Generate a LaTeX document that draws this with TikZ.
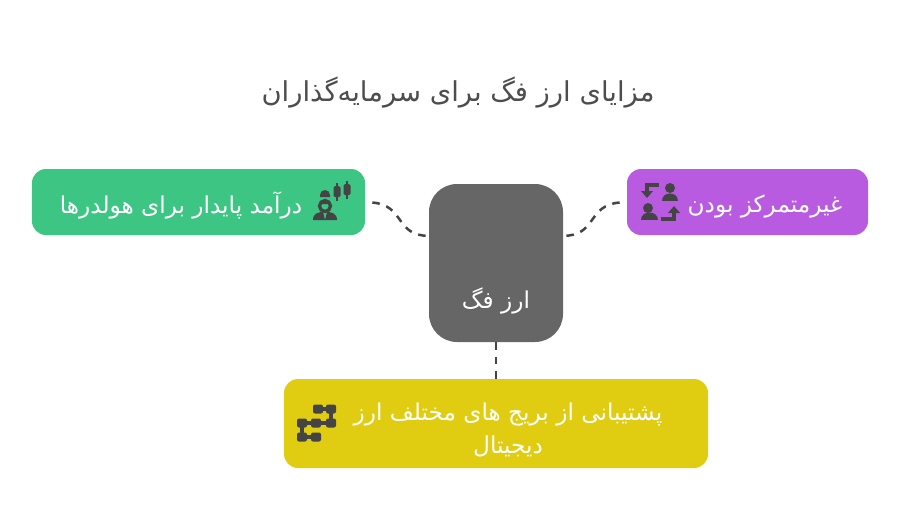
\documentclass[tikz,border=0pt]{standalone}
\usepackage{fontspec}
\newfontfamily\arabicfont[Script=Arabic]{DejaVu Sans}
\TeXXeTstate=1
\usepackage{xcolor}
\usetikzlibrary{calc}
\definecolor{FogGray}{RGB}{102,102,102}
\definecolor{IncomeGreen}{RGB}{60,197,131}
\definecolor{CentralPurple}{RGB}{184,91,224}
\definecolor{ExchangeYellow}{RGB}{224,204,17}
\definecolor{IconDark}{RGB}{68,68,68}
\begin{document}
\begin{tikzpicture}[
        x=0.2mm, y=-0.2mm,
        % --- STYLE CHUNG ---
        common/.style={
            rectangle,
            rounded corners=2.8mm,
            inner sep=0pt
        },
        advantage_box/.style={common},
        % Nut trung tam
        center_box/.style={
            common,
            rounded corners=5.6mm,
            fill=FogGray
        },
        box_text/.style={
            font=\arabicfont\fontsize{13.2}{18.7}\selectfont,
            text=white,
            align=center,
            inner sep=0pt
        },
        % Duong noi
        link/.style={
            draw=IconDark,
            line width=0.5mm,
            dash pattern=on 1.5mm off 1.4mm
        },
        icon/.style={fill=IconDark, draw=none},
        icon_line/.style={draw=IconDark, line width=0.8mm}
    ]
        \useasboundingbox (0,0) rectangle (900,530);

        % --- TIEU DE ---
        \node[box_text, text=IconDark!95!white, font=\arabicfont\fontsize{15.6}{20}\selectfont] (title) at (458,93) {\beginR مزایای ارز فگ برای سرمایه‌گذاران\endR};

        % --- CAC HOP ---
        \node[advantage_box, fill=IncomeGreen, minimum width=66.6mm, minimum height=13.2mm] (income) at (198.5,202) {};
        \node[advantage_box, fill=CentralPurple, minimum width=48.2mm, minimum height=13.2mm] (central) at (747.5,202) {};
        \node[center_box, minimum width=26.8mm, minimum height=31.6mm] (coin) at (496,263) {};
        \node[advantage_box, fill=ExchangeYellow, minimum width=84.8mm, minimum height=17.8mm] (exchange) at (496,423.5) {};

        % --- CHU TRONG HOP ---
        \node[box_text] (incometext) at (181,205) {\beginR درآمد پایدار برای هولدرها\endR};
        \node[box_text] (centraltext) at (765,207) {\beginR غیرمتمرکز بودن\endR};
        \node[box_text] (cointext) at (496,301) {\beginR ارز فگ\endR};
        \node[box_text] (exchangetext) at (508,430) {\beginR پشتیبانی از بریج های مختلف ارز\endR\\\beginR دیجیتال\endR};

        % --- DUONG NOI ---
        \draw[link, shorten <=1.4mm] (income.east) .. controls (405,205) and (395,236) .. (coin.158);
        \draw[link, shorten <=1.4mm] (central.west) .. controls (587,205) and (597,236) .. (coin.22);
        \draw[link] (coin.south) -- (exchange.north);

        % --- ICON: NGUOI VA NEN ---
        \fill[icon] (320,195) arc[start angle=180, end angle=0, radius=1mm] -- (330,197) -- (320,197) -- cycle;
        \draw[icon_line, line width=0.65mm] (325,206) circle[radius=1.1mm];
        \fill[icon] (313,220) .. controls (313,213) and (319,212) .. (323,212) -- (325,220) -- (327,212) .. controls (331,212) and (337,213) .. (337,220) -- cycle;
        \fill[icon] (319,204) .. controls (323,199) and (327,199) .. (331,204) -- cycle;
        \foreach \candle/\ctop/\cbot/\wickbot in {337/186/197/201, 347/184/195/199} {
            \fill[icon, rounded corners=0.3mm] (\candle-3.5,\ctop) rectangle (\candle+3.5,\cbot);
            \draw[IconDark, line width=0.35mm] (\candle,\ctop-3) -- (\candle,\wickbot);
        }

        % --- ICON: HAI NGUOI VA MUI TEN ---
        \fill[icon] (670,188) circle[radius=1mm];
        \fill[icon] (662,201) .. controls (662,191) and (678,191) .. (678,201) -- cycle;
        \fill[icon] (648,208) circle[radius=1mm];
        \fill[icon] (641,220) .. controls (641,210) and (658,210) .. (658,220) -- cycle;
        \draw[icon_line, line width=0.7mm] (659,185) -- (647,185) -- (647,193);
        \fill[icon] (641,191) -- (653,191) -- (647,198) -- cycle;
        \draw[icon_line, line width=0.7mm] (661,219) -- (674,219) -- (674,211);
        \fill[icon] (668,213) -- (680,213) -- (674,206) -- cycle;

        % --- ICON: CAC O NOI NHAU ---
        \draw[icon_line] (318,409) -- (331,409) -- (331,423) -- (302,423) -- (302,437) -- (316,437);
        \foreach \bx/\by in {318/409, 331/409, 302/423, 316/423, 331/423, 302/437, 316/437} {
            \fill[icon, rounded corners=0.4mm] (\bx-5,\by-4.5) rectangle (\bx+5,\by+4.5);
        }

    \end{tikzpicture}
\end{document}
